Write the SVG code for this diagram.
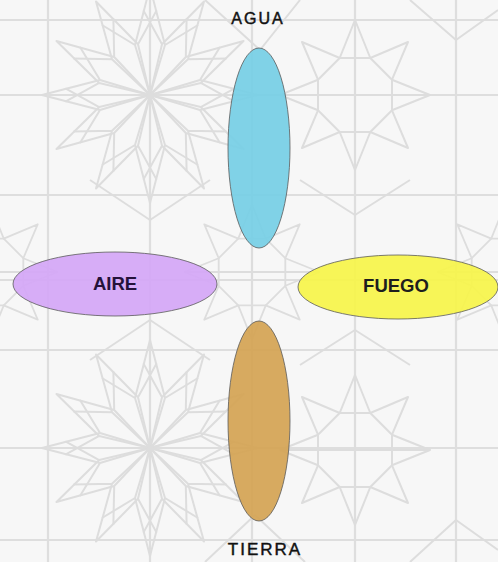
<svg xmlns="http://www.w3.org/2000/svg" xmlns:xlink="http://www.w3.org/1999/xlink" width="498" height="562" viewBox="0 0 498 562">
<style>
.bg{fill:none;stroke:#dddddd;stroke-width:2;stroke-linejoin:round}
.grid{stroke:#dedede;stroke-width:2.2}
.el{stroke:#5a5a5a;stroke-width:0.8;fill-opacity:0.94}
.lbl{font-family:"Liberation Sans",Arial,sans-serif;font-size:16px;fill:#111;stroke:#111;stroke-width:0.45;text-anchor:middle;letter-spacing:2px}
.in{font-family:"Liberation Sans",Arial,sans-serif;font-size:18.5px;font-weight:bold;text-anchor:middle}
</style>
<defs>
<path id="petal" d="M0,0 L15,-50 L0,-108 L-15,-50 Z M15,-50 L48,-70 M-15,-50 L-48,-70"/>
<g id="rosette" class="bg">
<use xlink:href="#petal"/>
<use xlink:href="#petal" transform="rotate(30)"/>
<use xlink:href="#petal" transform="rotate(60)"/>
<use xlink:href="#petal" transform="rotate(90)"/>
<use xlink:href="#petal" transform="rotate(120)"/>
<use xlink:href="#petal" transform="rotate(150)"/>
<use xlink:href="#petal" transform="rotate(180)"/>
<use xlink:href="#petal" transform="rotate(210)"/>
<use xlink:href="#petal" transform="rotate(240)"/>
<use xlink:href="#petal" transform="rotate(270)"/>
<use xlink:href="#petal" transform="rotate(300)"/>
<use xlink:href="#petal" transform="rotate(330)"/>
</g>
<g id="star8" class="bg">
<path d="M0,-75 L15.3,-37 L53,-53 L37,-15.3 L75,0 L37,15.3 L53,53 L15.3,37 L0,75 L-15.3,37 L-53,53 L-37,15.3 L-75,0 L-37,-15.3 L-53,-53 L-15.3,-37 Z"/>
<path d="M15.3,-37 L37,-15.3 L37,15.3 L15.3,37 L-15.3,37 L-37,15.3 L-37,-15.3 L-15.3,-37 Z"/>
<path d="M0,-75 L0,75 M-75,0 L75,0"/>
</g>
</defs>
<g id="background">
<rect width="498" height="562" fill="#f7f7f7"/>
<g class="grid">
<path d="M48,0V562 M150,0V562 M252,0V562 M355,0V562 M456,0V562"/>
<path d="M0,20H498 M0,95H498 M0,195H498 M0,280H498 M0,350H498 M0,448H498 M0,540H498"/>
</g>
<use xlink:href="#rosette" transform="translate(150,95)"/>
<use xlink:href="#rosette" transform="translate(150,448)"/>
<use xlink:href="#star8" transform="translate(355,95)"/>
<use xlink:href="#star8" transform="translate(355,450)"/>
<use xlink:href="#star8" transform="translate(252,272) scale(0.9)"/>
<use xlink:href="#star8" transform="translate(-10,272) scale(0.9)"/>
<use xlink:href="#star8" transform="translate(505,272) scale(0.9)"/>
<path class="bg" d="M205,0 L260,50 L300,0 M205,562 L255,515 L305,562 M90,180 L150,220 L210,180 M90,360 L150,320 L210,360 M300,180 L355,215 L410,180 M300,365 L355,330 L410,365 M410,0 L456,40 L498,10 M410,562 L456,520 L498,550"/>
</g>
<g id="agua">
<ellipse class="el" cx="259" cy="148" rx="31" ry="100" fill="#78cfe6"/>
<text class="lbl" x="258" y="24">AGUA</text>
</g>
<g id="aire">
<ellipse class="el" cx="115" cy="284" rx="102" ry="32" fill="#d5a8f6"/>
<text class="in" x="115" y="290" fill="#24123a">AIRE</text>
</g>
<g id="fuego">
<ellipse class="el" cx="398" cy="287" rx="100" ry="32" fill="#f6f44c"/>
<text class="in" x="396" y="292" fill="#1e1e1e">FUEGO</text>
</g>
<g id="tierra">
<ellipse class="el" cx="259" cy="421" rx="31" ry="100" fill="#d5a556"/>
<text class="lbl" x="265" y="555" style="font-size:17px">TIERRA</text>
</g>
<g id="connectors"/>
</svg>
